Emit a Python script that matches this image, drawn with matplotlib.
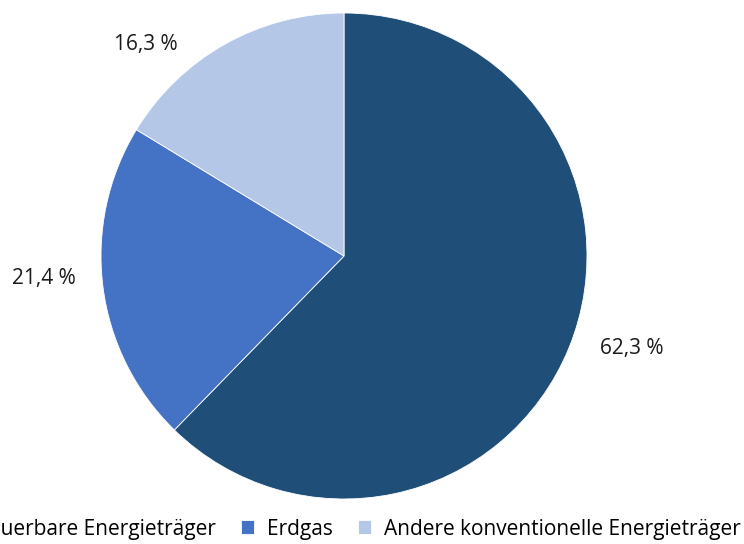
import matplotlib
matplotlib.use('Agg')
import matplotlib.pyplot as plt

plt.rcParams['font.family'] = ['Open Sans', 'DejaVu Sans']

# Daten
categories = ['Erneuerbare Energieträger', 'Erdgas', 'Andere konventionelle Energieträger']
shares = [62.3, 21.4, 16.3]
colors = ['#1F4E79', '#4472C4', '#B4C7E7']

# Position der Beschriftungen (in Radius-Einheiten, wie im Original)
label_pos = [(1.185, -0.379), (-1.235, -0.091), (-0.815, 0.872)]

fig = plt.figure(figsize=(7.44, 5.44), dpi=100)
ax = fig.add_axes([101 / 744, 45 / 544, 486 / 744, 486 / 544])

wedges, texts, autotexts = ax.pie(
    shares, colors=colors, startangle=90, counterclock=False,
    autopct=lambda p: f'{p:.1f} %'.replace('.', ','), pctdistance=1.24,
    wedgeprops=dict(linewidth=0.6, edgecolor='white'),
    textprops=dict(fontsize=15, color='#1a1a1a'))
for t, pos in zip(autotexts, label_pos):
    t.set_position(pos)
ax.set_xlim(-1, 1)
ax.set_ylim(-1, 1)

leg = fig.legend(wedges, categories, loc='center', bbox_to_anchor=(335 / 744, 15 / 544),
                 ncol=3, frameon=False, fontsize=15, handlelength=0.65, handleheight=0.65,
                 handletextpad=0.6, columnspacing=1.2)

fig.savefig('out.png', dpi=100)
